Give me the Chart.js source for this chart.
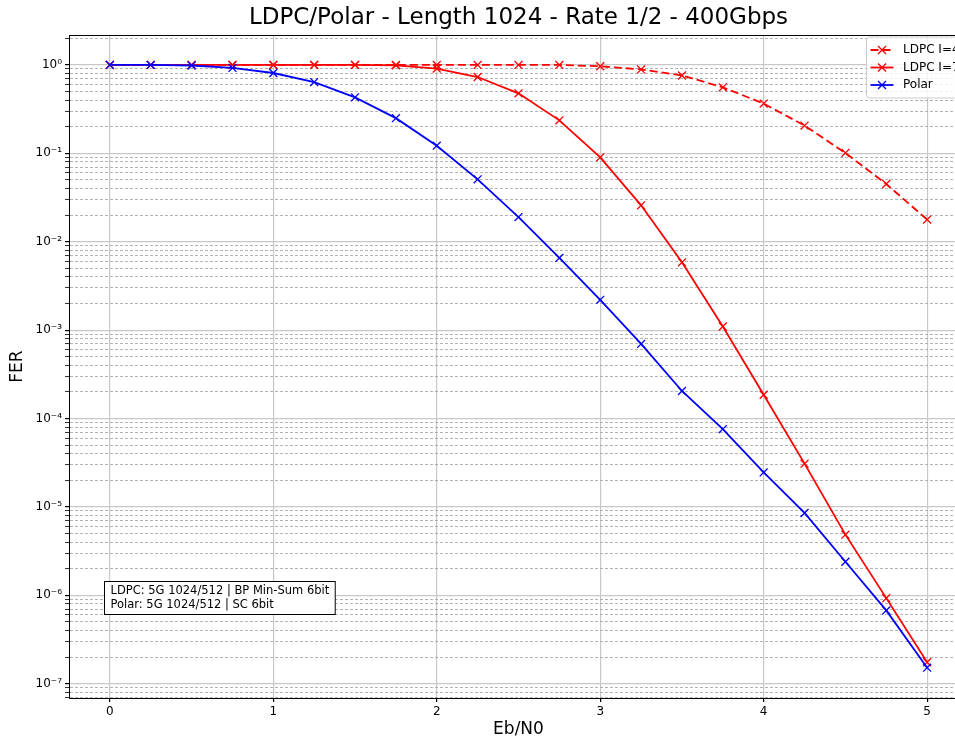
<!DOCTYPE html>
<html>
<head>
<meta charset="utf-8">
<script src="https://cdn.jsdelivr.net/npm/chart.js@4"></script>
<style>
html, body { margin: 0; padding: 0; background: #fff; overflow: hidden; }
#wrap { width: 975px; height: 738px; }
</style>
</head>
<body>
<div id="wrap"><canvas id="ferChart"></canvas></div>
<script>
// Eb/N0 points (dB)
const ebn0 = [0, 0.25, 0.5, 0.75, 1, 1.25, 1.5, 1.75, 2, 2.25, 2.5, 2.75, 3, 3.25, 3.5, 3.75, 4, 4.25, 4.5, 4.75, 5];

const ferLdpcI4 = [1, 1, 1, 1, 1, 1, 1, 1, 1, 1, 1, 1, 0.965, 0.89, 0.76, 0.558, 0.365, 0.206, 0.101, 0.045, 0.0178];
const ferLdpcI7 = [1, 1, 1, 1, 1, 1, 1, 0.99, 0.91, 0.73, 0.477, 0.236, 0.090, 0.0258, 0.00585, 0.0011, 1.86e-4, 3.09e-5, 4.86e-6, 9.3e-7, 1.75e-7];
const ferPolar  = [1, 1, 0.985, 0.925, 0.81, 0.64, 0.43, 0.25, 0.122, 0.0508, 0.019, 0.00656, 0.0022, 6.98e-4, 2.05e-4, 7.6e-5, 2.46e-5, 8.55e-6, 2.4e-6, 6.76e-7, 1.52e-7];

const xTicks = [0, 1, 2, 3, 4, 5];
const yDecades = [-8, -7, -6, -5, -4, -3, -2, -1, 0];
const yMultipliers = [1, 2, 3, 4, 5, 6, 7, 8, 9];

const infoLines = ["LDPC: 5G 1024/512 | BP Min-Sum 6bit", "Polar: 5G 1024/512 | SC 6bit"];

const FONT = "'DejaVu Sans', sans-serif";
const Y_MIN = 6.9e-8, Y_MAX = 2.18;

const sup = n => String(n).split("").map(c => ({"-": "⁻", "0": "⁰", "1": "¹", "2": "²", "3": "³", "4": "⁴", "5": "⁵", "6": "⁶", "7": "⁷", "8": "⁸", "9": "⁹"})[c]).join("");
const isDecade = v => { const e = Math.log10(v); return Math.abs(e - Math.round(e)) < 1e-9; };

const yTickValues = [];
yDecades.forEach(k => yMultipliers.forEach(m => {
    const v = m * Math.pow(10, k);
    if (v >= Y_MIN && v <= Y_MAX) yTickValues.push(v);
}));

const toPoints = arr => ebn0.map((x, i) => ({ x: x, y: arr[i] }));

// matplotlib-like extras: top/right spines, legend box, info box
const framePlugin = {
    id: "frame",
    afterDraw(chart) {
        const { ctx, chartArea: a } = chart;
        ctx.save();
        ctx.strokeStyle = "#000";
        ctx.lineWidth = 1;
        ctx.beginPath();
        ctx.moveTo(a.left, a.top + 0.5);
        ctx.lineTo(a.right, a.top + 0.5);
        ctx.lineTo(a.right, a.bottom);
        ctx.stroke();
        ctx.restore();
    }
};

const legendPlugin = {
    id: "lineLegend",
    afterDraw(chart) {
        const { ctx, chartArea: a } = chart;
        const x = a.right - 101.5, y = a.top + 2;
        ctx.save();
        ctx.beginPath();
        ctx.roundRect(x, y, 97.5, 61, 3);
        ctx.fillStyle = "rgba(255,255,255,0.8)";
        ctx.fill();
        ctx.strokeStyle = "#cccccc";
        ctx.lineWidth = 1;
        ctx.stroke();
        ctx.font = "12px " + FONT;
        ctx.textBaseline = "middle";
        chart.data.datasets.forEach((ds, i) => {
            const cy = y + 13 + i * 17.5;
            ctx.strokeStyle = ds.borderColor;
            ctx.lineWidth = ds.borderWidth;
            ctx.setLineDash(ds.borderDash || []);
            ctx.beginPath();
            ctx.moveTo(x + 4, cy);
            ctx.lineTo(x + 27, cy);
            ctx.stroke();
            ctx.setLineDash([]);
            const r = 4;
            ctx.lineWidth = ds.pointBorderWidth;
            ctx.beginPath();
            ctx.moveTo(x + 15.5 - r, cy - r); ctx.lineTo(x + 15.5 + r, cy + r);
            ctx.moveTo(x + 15.5 - r, cy + r); ctx.lineTo(x + 15.5 + r, cy - r);
            ctx.stroke();
            ctx.fillStyle = "#000";
            ctx.fillText(ds.label, x + 36.5, cy);
        });
        ctx.restore();
    }
};

const infoPlugin = {
    id: "infoBox",
    afterDraw(chart) {
        const { ctx, chartArea: a } = chart;
        ctx.save();
        ctx.font = "11.5px " + FONT;
        const w = Math.max(...infoLines.map(t => ctx.measureText(t).width)) + 12;
        const h = 33;
        const x = a.left + 35.5, y = a.bottom - 84 - h + 0.5;
        ctx.fillStyle = "#fff";
        ctx.fillRect(x, y, w, h);
        ctx.strokeStyle = "#000";
        ctx.lineWidth = 1;
        ctx.strokeRect(x, y, w, h);
        ctx.fillStyle = "#000";
        ctx.textBaseline = "middle";
        infoLines.forEach((t, i) => ctx.fillText(t, x + 6, y + 10 + i * 14));
        ctx.restore();
    }
};

const ctx = document.getElementById("ferChart").getContext("2d");
new Chart(ctx, {
    type: "line",
    data: {
        datasets: [
            {
                label: "LDPC I=4",
                data: toPoints(ferLdpcI4),
                borderColor: "#ff0000",
                backgroundColor: "#ff0000",
                borderWidth: 1.8,
                borderDash: [8, 4],
                pointStyle: "crossRot",
                pointRadius: 5.6,
                pointBorderWidth: 1.3,
                tension: 0,
                fill: false,
                order: 2
            },
            {
                label: "LDPC I=7",
                data: toPoints(ferLdpcI7),
                borderColor: "#ff0000",
                backgroundColor: "#ff0000",
                borderWidth: 1.8,
                pointStyle: "crossRot",
                pointRadius: 5.6,
                pointBorderWidth: 1.3,
                tension: 0,
                fill: false,
                order: 1
            },
            {
                label: "Polar",
                data: toPoints(ferPolar),
                borderColor: "#0000ff",
                backgroundColor: "#0000ff",
                borderWidth: 1.8,
                pointStyle: "crossRot",
                pointRadius: 5.6,
                pointBorderWidth: 1.3,
                tension: 0,
                fill: false,
                order: 0
            }
        ]
    },
    options: {
        responsive: true,
        maintainAspectRatio: false,
        animation: false,
        events: [],
        layout: { padding: { left: 0, right: 7, top: 0, bottom: 0 } },
        plugins: {
            legend: { display: false },
            tooltip: { enabled: false },
            title: {
                display: true,
                text: "LDPC/Polar - Length 1024 - Rate 1/2 - 400Gbps",
                color: "#000",
                fullSize: false,
                font: { family: FONT, size: 23, weight: "normal", lineHeight: 1.2 },
                padding: { top: 4.5, bottom: 2.9 }
            }
        },
        scales: {
            x: {
                type: "linear",
                min: -0.25,
                max: 5.25,
                afterBuildTicks: s => { s.ticks = xTicks.map(v => ({ value: v })); },
                afterFit: s => { s.height = 40; },
                ticks: {
                    color: "#000",
                    autoSkip: false,
                    maxRotation: 0,
                    padding: 3,
                    font: { family: FONT, size: 12 },
                    callback: v => String(v)
                },
                grid: { color: "#c8c8c8", lineWidth: 1.2, tickColor: "#000", tickLength: 4 },
                border: { color: "#000", width: 1 },
                title: {
                    display: true,
                    text: "Eb/N0",
                    color: "#000",
                    font: { family: FONT, size: 17, lineHeight: 1 },
                    padding: 0
                }
            },
            y: {
                type: "logarithmic",
                min: Y_MIN,
                max: Y_MAX,
                afterBuildTicks: s => { s.ticks = yTickValues.map(v => ({ value: v, major: isDecade(v) })); },
                afterFit: s => { s.width = 69; },
                ticks: {
                    color: "#000",
                    autoSkip: false,
                    padding: 3,
                    font: { family: FONT, size: 12 },
                    callback: v => isDecade(v) ? "10" + sup(Math.round(Math.log10(v))) : ""
                },
                grid: {
                    color: c => (c.tick && !isDecade(c.tick.value)) ? "#a0a0a0" : "#c8c8c8",
                    lineWidth: c => (c.tick && !isDecade(c.tick.value)) ? 0.8 : 1.2,
                    tickColor: "#000",
                    tickLength: 4
                },
                border: {
                    color: "#000",
                    width: 1,
                    dash: c => (c.tick && !isDecade(c.tick.value)) ? [3, 2] : []
                },
                title: {
                    display: true,
                    text: "FER",
                    color: "#000",
                    font: { family: FONT, size: 17, lineHeight: 1 },
                    padding: { top: 9.5, bottom: 0 }
                }
            }
        }
    },
    plugins: [framePlugin, legendPlugin, infoPlugin]
});
</script>
</body>
</html>
